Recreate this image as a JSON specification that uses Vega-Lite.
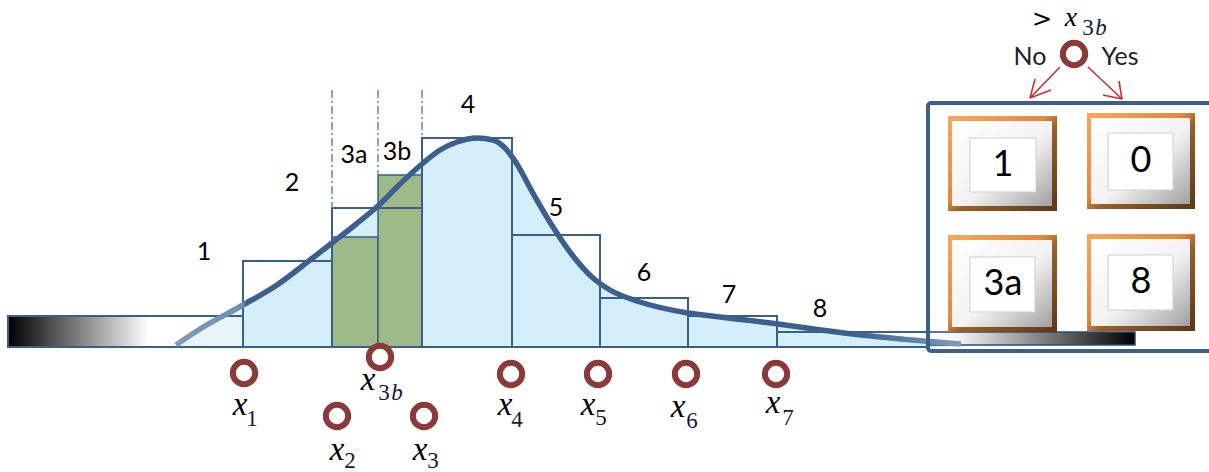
{
  "$schema": "https://vega.github.io/schema/vega-lite/v6.json",
  "width": 1209,
  "height": 472,
  "padding": 0,
  "autosize": {"type": "none"},
  "background": "white",
  "config": {"view": {"stroke": null}},
  "datasets": {
    "curve": [
      {"x": 176, "y": 345}, {"x": 200, "y": 329}, {"x": 243, "y": 305}, {"x": 277, "y": 285},
      {"x": 310, "y": 260}, {"x": 332, "y": 243}, {"x": 355, "y": 225}, {"x": 379, "y": 205},
      {"x": 400, "y": 184}, {"x": 422, "y": 164}, {"x": 440, "y": 150}, {"x": 457, "y": 142},
      {"x": 477, "y": 138}, {"x": 493, "y": 140}, {"x": 504, "y": 147}, {"x": 515, "y": 161},
      {"x": 534, "y": 195}, {"x": 553, "y": 227}, {"x": 573, "y": 256}, {"x": 593, "y": 278},
      {"x": 610, "y": 290}, {"x": 640, "y": 302}, {"x": 688, "y": 313}, {"x": 720, "y": 317},
      {"x": 778, "y": 324}, {"x": 821, "y": 330}, {"x": 861, "y": 335}, {"x": 901, "y": 339},
      {"x": 961, "y": 344}
    ],
    "bins": [
      {"x": 243, "x2": 332, "y": 261, "y2": 347},
      {"x": 332, "x2": 422, "y": 208, "y2": 347},
      {"x": 422, "x2": 512, "y": 138, "y2": 347},
      {"x": 512, "x2": 600, "y": 235, "y2": 347},
      {"x": 600, "x2": 688, "y": 298, "y2": 347},
      {"x": 688, "x2": 777, "y": 316, "y2": 347},
      {"x": 777, "x2": 928, "y": 332, "y2": 347}
    ],
    "green": [
      {"x": 332, "x2": 378, "y": 237, "y2": 347},
      {"x": 378, "x2": 422, "y": 175, "y2": 347}
    ],
    "dashes": [
      {"x": 332, "x2": 332, "y": 90, "y2": 208},
      {"x": 378, "x2": 378, "y": 90, "y2": 175},
      {"x": 422, "x2": 422, "y": 90, "y2": 138}
    ],
    "binLabels": [
      {"x": 204, "y": 252, "t": "1"}, {"x": 292, "y": 183, "t": "2"},
      {"x": 354, "y": 155, "t": "3a"}, {"x": 397, "y": 152, "t": "3b"},
      {"x": 468, "y": 105, "t": "4"}, {"x": 556, "y": 208, "t": "5"},
      {"x": 644, "y": 273, "t": "6"}, {"x": 729, "y": 295, "t": "7"},
      {"x": 820, "y": 309, "t": "8"}
    ],
    "circles": [
      {"x": 244, "y": 373}, {"x": 337, "y": 416}, {"x": 380, "y": 357}, {"x": 424, "y": 416},
      {"x": 511, "y": 374}, {"x": 598, "y": 374}, {"x": 686, "y": 374}, {"x": 776, "y": 374},
      {"x": 1074, "y": 54}
    ],
    "xmain": [
      {"x": 240, "y": 415, "t": "x"}, {"x": 337, "y": 460, "t": "x"}, {"x": 368, "y": 390, "t": "x"},
      {"x": 420, "y": 460, "t": "x"}, {"x": 505, "y": 415, "t": "x"}, {"x": 588, "y": 415, "t": "x"},
      {"x": 678, "y": 417, "t": "x"}, {"x": 773, "y": 413, "t": "x"}
    ],
    "xtop": [
      {"x": 1071, "y": 26, "t": "x"}
    ],
    "xsub": [
      {"x": 252, "y": 426, "t": "1"}, {"x": 350, "y": 468, "t": "2"}, {"x": 384, "y": 400, "t": "3"},
      {"x": 433, "y": 468, "t": "3"}, {"x": 517, "y": 427, "t": "4"}, {"x": 601, "y": 425, "t": "5"},
      {"x": 692, "y": 428, "t": "6"}, {"x": 788, "y": 425, "t": "7"}, {"x": 1088, "y": 35, "t": "3"}
    ],
    "xsubB": [
      {"x": 397, "y": 400, "t": "b"}, {"x": 1101, "y": 35, "t": "b"}
    ],
    "topText": [
      {"x": 1042, "y": 20, "t": ">"}
    ],
    "noyes": [
      {"x": 1030, "y": 57, "t": "No"}, {"x": 1120, "y": 57, "t": "Yes"}
    ],
    "arrows": [
      {"x": 1060, "y": 67, "x2": 1030, "y2": 98},
      {"x": 1030, "y": 98, "x2": 1035, "y2": 79},
      {"x": 1030, "y": 98, "x2": 1051, "y2": 90},
      {"x": 1088, "y": 67, "x2": 1122, "y2": 99},
      {"x": 1122, "y": 99, "x2": 1119, "y2": 81},
      {"x": 1122, "y": 99, "x2": 1103, "y2": 95}
    ],
    "btnOuter": [
      {"x": 948, "x2": 1057, "y": 116, "y2": 211},
      {"x": 1087, "x2": 1195, "y": 113, "y2": 209},
      {"x": 948, "x2": 1057, "y": 235, "y2": 332},
      {"x": 1087, "x2": 1195, "y": 234, "y2": 331}
    ],
    "btnBevel": [
      {"x": 952, "x2": 1052, "y": 121, "y2": 206},
      {"x": 1091, "x2": 1190, "y": 118, "y2": 204},
      {"x": 952, "x2": 1052, "y": 240, "y2": 327},
      {"x": 1091, "x2": 1190, "y": 239, "y2": 326}
    ],
    "btnInner": [
      {"x": 970, "x2": 1036, "y": 138, "y2": 192},
      {"x": 1108, "x2": 1173, "y": 133, "y2": 190},
      {"x": 970, "x2": 1035, "y": 257, "y2": 312},
      {"x": 1108, "x2": 1173, "y": 255, "y2": 310}
    ],
    "btnText": [
      {"x": 1003, "y": 165, "t": "1"}, {"x": 1141, "y": 161, "t": "0"},
      {"x": 1003, "y": 284, "t": "3a"}, {"x": 1141, "y": 282, "t": "8"}
    ],
    "leftBar": [{"x": 8, "x2": 243, "y": 316, "y2": 347}],
    "rightBar": [{"x": 928, "x2": 1135, "y": 332, "y2": 345}],
    "box": [{"x": 928, "x2": 1215, "y": 103, "y2": 351}]
  },
  "encoding": {
    "x": {"field": "x", "type": "quantitative", "scale": {"domain": [0, 1209], "nice": false, "zero": false}, "axis": null},
    "y": {"field": "y", "type": "quantitative", "scale": {"domain": [0, 472], "nice": false, "zero": false, "reverse": true}, "axis": null}
  },
  "layer": [
    {
      "data": {"name": "curve"},
      "mark": {"type": "area", "interpolate": "monotone",
        "fill": {"gradient": "linear", "x1": 0, "y1": 0, "x2": 1, "y2": 0,
          "stops": [{"offset": 0, "color": "#e8f5fc"}, {"offset": 0.085, "color": "#e8f5fc"}, {"offset": 0.087, "color": "#d5effa"}, {"offset": 1, "color": "#d5effa"}]}},
      "encoding": {"y2": {"datum": 347}}
    },
    {
      "data": {"name": "leftBar"},
      "mark": {"type": "rect", "stroke": "#3a5f8f", "strokeWidth": 2,
        "fill": {"gradient": "linear", "x1": 0, "y1": 0, "x2": 1, "y2": 0,
          "stops": [{"offset": 0, "color": "rgba(0,0,0,1)"}, {"offset": 0.6, "color": "rgba(255,255,255,1)"}, {"offset": 0.7, "color": "rgba(255,255,255,0)"}, {"offset": 1, "color": "rgba(255,255,255,0)"}]}},
      "encoding": {"x2": {"field": "x2"}, "y2": {"field": "y2"}}
    },
    {
      "data": {"name": "green"},
      "mark": {"type": "rect", "fill": "#9dba88", "stroke": "#3a5f8f", "strokeWidth": 1.5},
      "encoding": {"x2": {"field": "x2"}, "y2": {"field": "y2"}}
    },
    {
      "data": {"name": "bins"},
      "mark": {"type": "rect", "fill": "transparent", "stroke": "#3a5f8f", "strokeWidth": 2},
      "encoding": {"x2": {"field": "x2"}, "y2": {"field": "y2"}}
    },
    {
      "data": {"name": "rightBar"},
      "mark": {"type": "rect", "stroke": "#2a4a78", "strokeWidth": 1.5,
        "fill": {"gradient": "linear", "x1": 0, "y1": 0, "x2": 1, "y2": 0,
          "stops": [{"offset": 0, "color": "#ffffff"}, {"offset": 0.15, "color": "#f4f4f4"}, {"offset": 1, "color": "#000000"}]}},
      "encoding": {"x2": {"field": "x2"}, "y2": {"field": "y2"}}
    },
    {
      "data": {"name": "dashes"},
      "mark": {"type": "rule", "stroke": "#5b8bd0", "strokeWidth": 1.5, "strokeDash": [8, 3, 2, 3]},
      "encoding": {"x2": {"field": "x2"}, "y2": {"field": "y2"}}
    },
    {
      "data": {"name": "curve"},
      "mark": {"type": "line", "interpolate": "monotone", "strokeWidth": 5.5, "strokeCap": "butt",
        "stroke": {"gradient": "linear", "x1": 0, "y1": 0, "x2": 1, "y2": 0,
          "stops": [{"offset": 0, "color": "#7f9bbd"}, {"offset": 0.085, "color": "#6f8db4"}, {"offset": 0.09, "color": "#3d5f8e"}, {"offset": 0.86, "color": "#3d5f8e"}, {"offset": 1, "color": "#7f9bbd"}]}},
      "encoding": {}
    },
    {
      "data": {"name": "box"},
      "mark": {"type": "rect", "fill": "transparent", "stroke": "#3d5f8f", "strokeWidth": 4, "cornerRadius": 3},
      "encoding": {"x2": {"field": "x2"}, "y2": {"field": "y2"}}
    },
    {
      "data": {"name": "circles"},
      "mark": {"type": "point", "shape": "circle", "filled": false, "stroke": "#8b3a3a", "strokeWidth": 6, "size": 500, "opacity": 1},
      "encoding": {}
    },
    {
      "data": {"name": "binLabels"},
      "mark": {"type": "text", "font": "Lato", "fontSize": 25, "color": "#000000", "align": "center", "baseline": "middle"},
      "encoding": {"text": {"field": "t"}}
    },
    {
      "data": {"name": "xmain"},
      "mark": {"type": "text", "font": "Liberation Serif", "fontStyle": "italic", "fontSize": 33, "color": "#000000", "align": "center", "baseline": "alphabetic"},
      "encoding": {"text": {"field": "t"}}
    },
    {
      "data": {"name": "xtop"},
      "mark": {"type": "text", "font": "Liberation Serif", "fontStyle": "italic", "fontSize": 28, "color": "#000000", "align": "center", "baseline": "alphabetic"},
      "encoding": {"text": {"field": "t"}}
    },
    {
      "data": {"name": "xsub"},
      "mark": {"type": "text", "font": "Liberation Serif", "fontSize": 23, "color": "#111a33", "align": "center", "baseline": "alphabetic"},
      "encoding": {"text": {"field": "t"}}
    },
    {
      "data": {"name": "xsubB"},
      "mark": {"type": "text", "font": "Liberation Serif", "fontStyle": "italic", "fontSize": 23, "color": "#111a33", "align": "center", "baseline": "alphabetic"},
      "encoding": {"text": {"field": "t"}}
    },
    {
      "data": {"name": "topText"},
      "mark": {"type": "text", "font": "DejaVu Sans", "fontSize": 24, "color": "#000000", "align": "center", "baseline": "middle"},
      "encoding": {"text": {"field": "t"}}
    },
    {
      "data": {"name": "noyes"},
      "mark": {"type": "text", "font": "Lato", "fontSize": 25, "color": "#222222", "align": "center", "baseline": "middle"},
      "encoding": {"text": {"field": "t"}}
    },
    {
      "data": {"name": "arrows"},
      "mark": {"type": "rule", "stroke": "#c8302a", "strokeWidth": 1.6},
      "encoding": {"x2": {"field": "x2"}, "y2": {"field": "y2"}}
    },
    {
      "data": {"name": "btnOuter"},
      "mark": {"type": "rect",
        "fill": {"gradient": "linear", "x1": 0, "y1": 0, "x2": 1, "y2": 1,
          "stops": [{"offset": 0, "color": "#f9a85a"}, {"offset": 0.45, "color": "#e08a3c"}, {"offset": 0.55, "color": "#9a5f2a"}, {"offset": 1, "color": "#5a3818"}]}},
      "encoding": {"x2": {"field": "x2"}, "y2": {"field": "y2"}}
    },
    {
      "data": {"name": "btnBevel"},
      "mark": {"type": "rect",
        "fill": {"gradient": "linear", "x1": 0, "y1": 0, "x2": 1, "y2": 1,
          "stops": [{"offset": 0, "color": "#ffffff"}, {"offset": 0.55, "color": "#f2f2f2"}, {"offset": 1, "color": "#a0a0a0"}]}},
      "encoding": {"x2": {"field": "x2"}, "y2": {"field": "y2"}}
    },
    {
      "data": {"name": "btnInner"},
      "mark": {"type": "rect", "fill": "#ffffff", "stroke": "#cfcfcf", "strokeWidth": 1},
      "encoding": {"x2": {"field": "x2"}, "y2": {"field": "y2"}}
    },
    {
      "data": {"name": "btnText"},
      "mark": {"type": "text", "font": "Lato", "fontSize": 36, "color": "#000000", "align": "center", "baseline": "middle"},
      "encoding": {"text": {"field": "t"}}
    }
  ]
}
